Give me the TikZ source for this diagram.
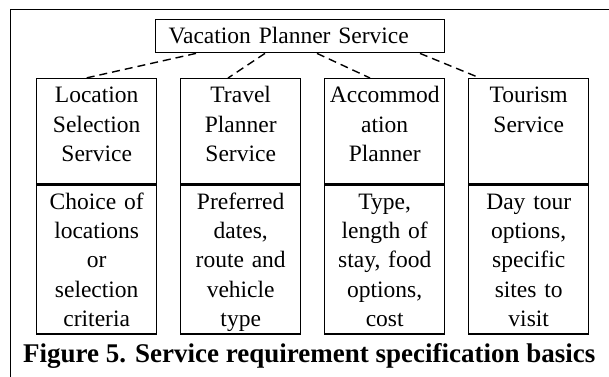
\documentclass[tikz,border=0pt]{standalone}
\usepackage{fontspec}
\setmainfont{Liberation Serif}
\usetikzlibrary{positioning}
\begin{document}
\begin{tikzpicture}[x=1pt,y=-1pt,
        svcbox/.style={draw,line width=1.4pt,inner xsep=2pt,inner ysep=0pt,text width=116pt,
            align=center,font=\fontsize{23.5}{29.3}\selectfont},
        svchead/.style={svcbox,text height=24pt,text depth=81pt},
        svcbody/.style={svcbox,text height=24pt,text depth=125pt},
        link/.style={line width=1.4pt,dash pattern=on 8pt off 5pt}]
        \useasboundingbox (0,0) rectangle (609,376);
        \draw[line width=1pt] (10,380) -- (10,9.5) -- (612,9.5);
        \node[draw,line width=1.4pt,anchor=north west,inner sep=0pt,text width=289pt,
            text height=24pt,text depth=9pt,align=left,font=\fontsize{23.5}{28}\selectfont]
            (vps) at (155,19) {\hspace*{13pt}Vacation Planner Service};
        \node[svchead,anchor=north west] (lss) at (36,78) {Location\\Selection\\Service};
        \node[svchead,anchor=north west] (tps) at (180,78) {Travel\\Planner\\Service};
        \node[svchead,anchor=north west] (acc) at (324,78) {Accommod\\ation\\Planner};
        \node[svchead,anchor=north west] (tour) at (468,78) {Tourism\\Service};
        \node[svcbody,below=0pt of lss] (lssreq) {Choice of\\locations\\or\\selection\\criteria};
        \node[svcbody,below=0pt of tps] (tpsreq) {Preferred\\dates,\\route and\\vehicle\\type};
        \node[svcbody,below=0pt of acc] (accreq) {Type,\\length of\\stay, food\\options,\\cost};
        \node[svcbody,below=0pt of tour] (tourreq) {Day tour\\options,\\specific\\sites to\\visit};
        \draw[link] ([xshift=41pt]vps.south west) -- ([xshift=50pt]lss.north west);
        \draw[link] ([xshift=110pt]vps.south west) -- ([xshift=48pt]tps.north west);
        \draw[link] ([xshift=162pt]vps.south west) -- ([xshift=46pt]acc.north west);
        \draw[link] ([xshift=265pt]vps.south west) -- ([xshift=12pt]tour.north west);
        \node[anchor=base west,inner sep=0pt,font=\fontsize{27}{32}\selectfont\bfseries]
            (caption) at (23,362) {Figure 5. Service requirement specification basics};
    \end{tikzpicture}
\end{document}
